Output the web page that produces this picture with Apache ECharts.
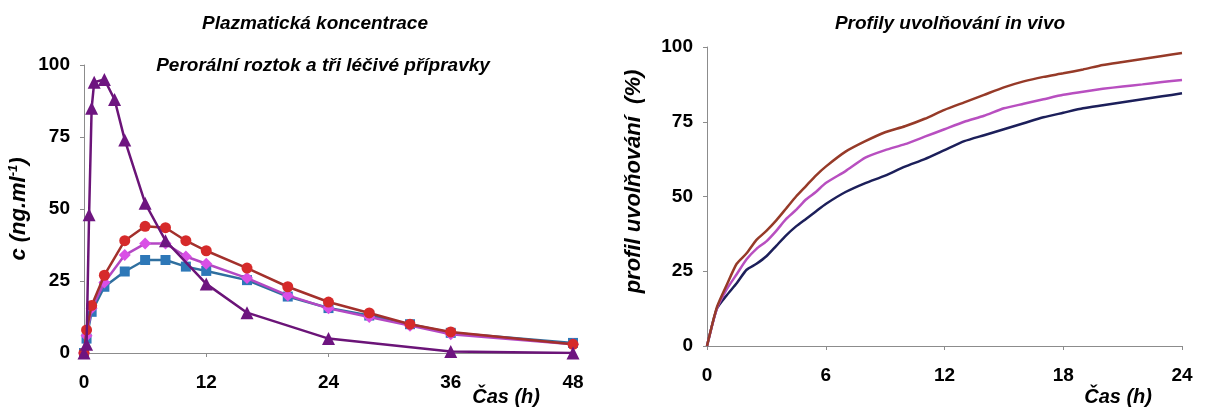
<!DOCTYPE html>
<html>
<head>
<meta charset="utf-8">
<script src="https://cdn.jsdelivr.net/npm/echarts@6/dist/echarts.min.js"></script>
<style>html,body{margin:0;padding:0;background:#fff}#c{width:1206px;height:412px}</style>
</head>
<body>
<div id="c"></div>
<script>
// ---------- Left chart: plasma concentration ----------
const solTime = [0, 0.25, 0.5, 0.75, 1, 2, 3, 4, 6, 8, 12, 16, 24, 36, 48];
const solConc = [0, 3, 48, 85, 94, 95, 88, 74, 52, 39, 24, 14, 5, 0.5, 0];

const formTime = [0, 0.25, 0.75, 2, 4, 6, 8, 10, 12, 16, 20, 24, 28, 32, 36, 48];
const redConc = [0, 8, 16.5, 27, 39, 44, 43.5, 39, 35.5, 29.5, 23, 17.7, 13.9, 10, 7.3, 3];
const magentaConc = [0, 6, 15.5, 24.5, 34, 38, 38, 33.5, 31, 26, 20, 15.5, 12.5, 9.5, 6.5, 3];
const blueConc = [0, 5, 14.3, 23, 28.3, 32.3, 32.3, 30, 28.5, 25.3, 19.6, 15.6, 13, 10, 7, 3.5];

const leftXTicks = [0, 12, 24, 36, 48];
const leftYTicks = [0, 25, 50, 75, 100];

// ---------- Right chart: in vivo release profiles ----------
const relTime = [0, 0.5, 1, 1.5, 2, 2.5, 3, 3.5, 4, 4.5, 5, 5.5, 6, 7, 8, 9, 10, 11, 12, 13, 14, 15, 16, 17, 18, 19, 20, 21, 22, 23, 24];
const relBrown = [0, 13, 20.5, 27.5, 31, 35.5, 38.5, 42, 46, 50, 53.5, 57, 60, 65, 68.5, 71.5, 73.5, 76, 79, 81.5, 84, 86.5, 88.5, 90, 91.2, 92.5, 94, 95, 96, 97, 98];
const relMagenta = [0, 12.5, 19, 24, 29, 32.5, 35, 38.5, 42.5, 45.5, 49, 51.5, 54.5, 58.5, 63, 65.5, 67.5, 70, 72.5, 75, 77, 79.5, 81, 82.5, 84, 85, 86, 86.8, 87.5, 88.3, 89];
const relNavy = [0, 12.5, 17, 21, 25.5, 27.5, 30, 33.5, 37, 40, 42.5, 45, 47.5, 51.5, 54.5, 57, 60, 62.5, 65.5, 68.5, 70.5, 72.5, 74.5, 76.5, 78, 79.5, 80.5, 81.5, 82.5, 83.5, 84.5];

const rightXTicks = [0, 6, 12, 18, 24];
const rightYTicks = [0, 25, 50, 75, 100];

const zip = (xs, ys) => xs.map((x, i) => [x, ys[i]]);

const FONT = "'Liberation Sans', Arial, sans-serif";
const labelStyle = { color: '#000', fontFamily: FONT, fontWeight: 'bold', fontSize: 19 };
const axisLineStyle = { show: true, lineStyle: { color: '#8c8c8c', width: 1 } };
const tickStyle = { show: true, length: 4, lineStyle: { color: '#8c8c8c' } };
const nameStyle = { color: '#000', fontFamily: FONT, fontWeight: 'bold', fontStyle: 'italic', fontSize: 20 };
const titleStyle = { fontFamily: FONT, fontWeight: 'bold', fontStyle: 'italic', color: '#000', fontSize: 19 };

function valueAxis(ticks, extra) {
  const step = ticks[1] - ticks[0];
  return Object.assign({
    type: 'value',
    min: ticks[0],
    max: ticks[ticks.length - 1],
    interval: step,
    axisLine: axisLineStyle,
    axisTick: tickStyle,
    splitLine: { show: false },
    axisLabel: Object.assign({}, labelStyle)
  }, extra);
}

const chart = echarts.init(document.getElementById('c'), null, { renderer: 'canvas' });

const option = {
  backgroundColor: '#fff',
  animation: false,
  title: [
    { text: 'Plazmatická koncentrace', left: 310, top: 9, textAlign: 'center', textStyle: titleStyle },
    { text: 'Perorální roztok a tři léčivé přípravky', left: 318, top: 51, textAlign: 'center', textStyle: titleStyle },
    { text: 'Profily uvolňování in vivo', left: 945, top: 9, textAlign: 'center', textStyle: titleStyle }
  ],
  grid: [
    { left: 84, top: 65, width: 489, height: 288, containLabel: false, outerBoundsMode: 'none' },
    { left: 707, top: 47, width: 475, height: 299, containLabel: false, outerBoundsMode: 'none' }
  ],
  xAxis: [
    valueAxis(leftXTicks, {
      gridIndex: 0,
      axisLabel: Object.assign({}, labelStyle, { margin: 20 }),
      name: 'Čas (h)', nameLocation: 'end', nameGap: -33,
      nameTextStyle: Object.assign({}, nameStyle, { align: 'right', verticalAlign: 'top', padding: [34, 0, 0, 0] })
    }),
    valueAxis(rightXTicks, {
      gridIndex: 1,
      axisLabel: Object.assign({}, labelStyle, { margin: 20 }),
      name: 'Čas (h)', nameLocation: 'end', nameGap: -30,
      nameTextStyle: Object.assign({}, nameStyle, { align: 'right', verticalAlign: 'top', padding: [41, 0, 0, 0] })
    })
  ],
  yAxis: [
    valueAxis(leftYTicks, {
      gridIndex: 0,
      axisLabel: Object.assign({}, labelStyle, { margin: 14 }),
      name: 'c (ng.ml{sup|-1})', nameLocation: 'middle', nameGap: 54, nameRotate: 90,
      nameTextStyle: Object.assign({}, nameStyle, {
        fontSize: 22,
        rich: { sup: { fontFamily: FONT, fontWeight: 'bold', fontStyle: 'italic', fontSize: 13, color: '#000', verticalAlign: 'top', padding: [0, 0, 10, 0] } }
      })
    }),
    valueAxis(rightYTicks, {
      gridIndex: 1,
      axisLabel: Object.assign({}, labelStyle, { margin: 14 }),
      name: 'profil uvolňování  (%)', nameLocation: 'middle', nameGap: 62, nameRotate: 90,
      nameTextStyle: Object.assign({}, nameStyle, { fontSize: 22, padding: [0, 0, 0, 30] })
    })
  ],
  series: [
    { type: 'line', xAxisIndex: 0, yAxisIndex: 0, data: zip(formTime, blueConc),
      symbol: 'rect', symbolSize: 10, lineStyle: { color: '#2f6f9f', width: 2.5 },
      itemStyle: { color: '#2e78b8' }, z: 2 },
    { type: 'line', xAxisIndex: 0, yAxisIndex: 0, data: zip(formTime, magentaConc),
      symbol: 'diamond', symbolSize: 12, lineStyle: { color: '#b448c4', width: 2.5 },
      itemStyle: { color: '#d94fe6' }, z: 3 },
    { type: 'line', xAxisIndex: 0, yAxisIndex: 0, data: zip(formTime, redConc),
      symbol: 'circle', symbolSize: 11, lineStyle: { color: '#a3302c', width: 2.5 },
      itemStyle: { color: '#d62a2a' }, z: 4 },
    { type: 'line', xAxisIndex: 0, yAxisIndex: 0, data: zip(solTime, solConc),
      symbol: 'triangle', symbolSize: 13, lineStyle: { color: '#6b1478', width: 2.5 },
      itemStyle: { color: '#6e1580' }, z: 5 },

    { type: 'line', xAxisIndex: 1, yAxisIndex: 1, data: zip(relTime, relNavy),
      showSymbol: false, smooth: 0.2, lineStyle: { color: '#1c1f5a', width: 2.5 } },
    { type: 'line', xAxisIndex: 1, yAxisIndex: 1, data: zip(relTime, relMagenta),
      showSymbol: false, smooth: 0.2, lineStyle: { color: '#b84fc0', width: 2.5 } },
    { type: 'line', xAxisIndex: 1, yAxisIndex: 1, data: zip(relTime, relBrown),
      showSymbol: false, smooth: 0.2, lineStyle: { color: '#963a28', width: 2.5 } }
  ]
};

chart.setOption(option);
</script>
</body>
</html>
